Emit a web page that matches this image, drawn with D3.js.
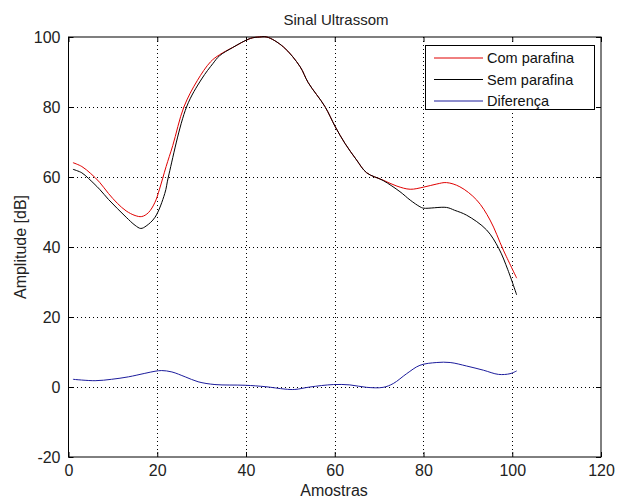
<!DOCTYPE html>
<html><head><meta charset="utf-8">
<script src="https://cdn.jsdelivr.net/npm/d3@7"></script>
<style>body{margin:0;background:#fff;} svg{display:block;font-family:"Liberation Sans",Arial,sans-serif;}</style>
</head><body><svg id="c" width="617" height="500"></svg>
<script>
// Data
const comParafinaX = [1,3,5,7,9,11,13,15,16.5,18,19.5,20.5,22,23.5,26,29,32,34,37,41,43,44.7,48.4,52.2,54,57.8,60.1,62.3,64.9,67.2,70.9,74,77,80,83,85.2,88.2,92,95,98,101];
const comParafinaY = [64.1,63,61,58.5,55.3,52.5,50.3,49,48.7,49.8,52.8,56.5,63,69,80,87.5,92.9,94.9,97,99.6,100,100,97.2,91.5,87,80.1,74.4,69.6,64.9,61.2,59.1,57.4,56.5,57.1,58,58.4,57.2,53.4,47.7,39.1,31.1];
const semParafinaX = [1,3,4.5,7,9,11,13,15,16.3,17.5,19.5,21.7,22.5,26.6,30,32.6,34,37,41,43,44.7,48.4,52.2,54,57.8,60.1,62.3,64.9,67.2,70.9,74.7,77,79.2,80,85.2,87,89.7,94.2,97,99,101];
const semParafinaY = [62.2,61.2,59.6,56.5,53.6,51,48.5,46.2,45.3,46,48.5,55.3,60,80,88,92.5,94.6,97,99.6,100,100,97.2,91.5,87,80.1,74.4,69.6,64.9,61.2,59,55.8,53.4,51.5,51.1,51.3,50.5,49.1,44.9,39.5,33.5,26.3];
const diferencaX = [1,6,9.7,13.5,17.2,19.5,21,23.3,26.3,29.2,33,39.8,44.3,48.8,51,54.4,59.7,63.4,67.2,70.9,73.2,76.2,79.2,83,86,89.7,93.5,96.9,99.5,101];
const diferencaY = [2.2,1.8,2.2,2.9,3.9,4.5,4.7,4.3,2.9,1.5,0.7,0.5,0.1,-0.6,-0.7,0.0,0.7,0.6,-0.1,-0.1,1.0,3.8,6.2,7.0,7.0,6,4.8,3.6,3.8,4.6];
const xTicks = [0,20,40,60,80,100,120];
const yTicks = [-20,0,20,40,60,80,100];
const seriesNames = ["Com parafina","Sem parafina","Diferença"];
const seriesColors = ["#e00000","#000000","#1c1c9c"];

const svg = d3.select("#c");
const L=68.5, T=37, R=601, B=457;
const x = d3.scaleLinear().domain([0,120]).range([L,R]);
const y = d3.scaleLinear().domain([-20,100]).range([B,T]);

// grid
const grid = svg.append("g").attr("stroke","#000").attr("stroke-width",1).attr("stroke-dasharray","1,3").attr("shape-rendering","crispEdges");
xTicks.slice(1,-1).forEach(t=>grid.append("line").attr("x1",Math.round(x(t))+0.5).attr("x2",Math.round(x(t))+0.5).attr("y1",T).attr("y2",B));
yTicks.slice(1,-1).forEach(t=>grid.append("line").attr("y1",Math.round(y(t))+0.5).attr("y2",Math.round(y(t))+0.5).attr("x1",L).attr("x2",R));

// axes
const fmt = d => String(d);
svg.append("g").attr("transform",`translate(0,${B})`).call(d3.axisBottom(x).tickValues(xTicks).tickFormat(fmt).tickSizeInner(-5).tickSizeOuter(0).tickPadding(8));
svg.append("g").attr("transform",`translate(${L},0)`).call(d3.axisLeft(y).tickValues(yTicks).tickFormat(fmt).tickSizeInner(-5).tickSizeOuter(0).tickPadding(8));
svg.append("g").attr("transform",`translate(0,${T})`).call(d3.axisTop(x).tickValues(xTicks).tickFormat("").tickSizeInner(-5).tickSizeOuter(0));
svg.append("g").attr("transform",`translate(${R},0)`).call(d3.axisRight(y).tickValues(yTicks).tickFormat("").tickSizeInner(-5).tickSizeOuter(0));
svg.selectAll(".domain").remove();
svg.selectAll(".tick line").attr("stroke","#000");
svg.selectAll(".tick text").attr("font-size",16).attr("fill","#222").attr("font-family","Liberation Sans, Arial, sans-serif");
svg.append("rect").attr("x",L).attr("y",T).attr("width",R-L).attr("height",B-T).attr("fill","none").attr("stroke","#000").attr("stroke-width",1);

// lines
const line = d3.line().x(d=>x(d[0])).y(d=>y(d[1])).curve(d3.curveCatmullRom.alpha(0.5));
const sets = [[comParafinaX,comParafinaY],[semParafinaX,semParafinaY],[diferencaX,diferencaY]];
sets.forEach((s,i)=>{
  const pts = s[0].map((v,j)=>[v,s[1][j]]);
  svg.append("path").datum(pts).attr("d",line).attr("fill","none").attr("stroke",seriesColors[i]).attr("stroke-width",1);
});

// titles
svg.append("text").attr("x",336).attr("y",25).attr("text-anchor","middle").attr("font-size",15).attr("fill","#222").text("Sinal Ultrassom");
svg.append("text").attr("x",334).attr("y",496).attr("text-anchor","middle").attr("font-size",16).attr("fill","#222").text("Amostras");
svg.append("text").attr("transform",`translate(26,${(T+B)/2}) rotate(-90)`).attr("text-anchor","middle").attr("font-size",16).attr("fill","#222").text("Amplitude [dB]");

// legend
const lg = svg.append("g");
lg.append("rect").attr("x",425.5).attr("y",45.5).attr("width",169).attr("height",64).attr("fill","#fff").attr("stroke","#000");
seriesNames.forEach((n,i)=>{
  const yy = 58 + i*21.5;
  lg.append("line").attr("x1",434).attr("x2",483).attr("y1",yy).attr("y2",yy).attr("stroke",seriesColors[i]).attr("stroke-width",1);
  lg.append("text").attr("x",487).attr("y",yy+5).attr("font-size",14.5).attr("fill","#111").text(n);
});
</script></body></html>
